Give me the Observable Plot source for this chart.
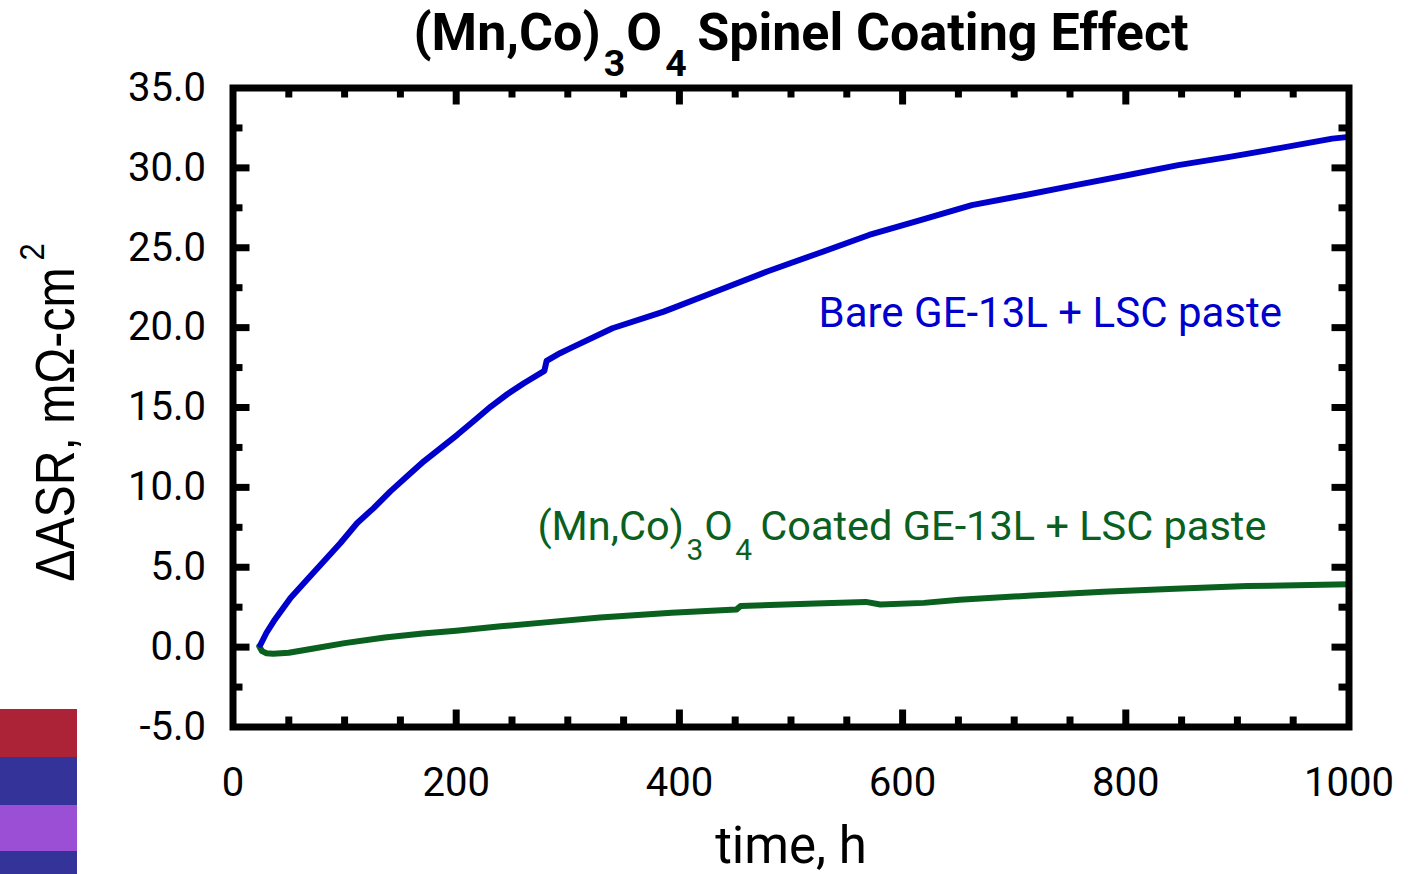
<!DOCTYPE html>
<html><head><meta charset="utf-8">
<script src="https://cdn.jsdelivr.net/npm/d3@7"></script>
<script src="https://cdn.jsdelivr.net/npm/@observablehq/plot@0.6"></script>
<style>
html,body{margin:0;padding:0;background:#fff;}
#wrap{position:relative;width:1408px;height:874px;overflow:hidden;background:#fff;}
.sw{position:absolute;left:0;width:77px;}
</style></head><body><div id="wrap"></div>
<script>
// ---- data ----
const bareTime = [24.6, 30, 36.6, 51.5, 66.5, 81.4, 96.3, 111.3, 126, 141, 156, 171, 186, 201, 216, 231, 245.7, 260.6, 279, 281, 293, 302, 340, 386, 432, 478, 524, 570, 616, 662, 709, 755, 801, 847, 893, 939, 985, 1000];
const bareASR  = [0.15, 0.9, 1.63, 3.08, 4.23, 5.38, 6.52, 7.77, 8.7, 9.75, 10.69, 11.63, 12.46, 13.29, 14.17, 15.06, 15.83, 16.52, 17.29, 17.92, 18.4, 18.7, 19.96, 21.0, 22.25, 23.5, 24.64, 25.8, 26.73, 27.67, 28.29, 28.92, 29.54, 30.17, 30.69, 31.25, 31.83, 31.94];
const coatedTime = [23.5, 26, 30, 36, 50, 71, 100, 136, 170, 200, 240, 280, 329, 393, 451, 455, 522, 567, 580, 619, 651, 716, 780, 844, 909, 1000];
const coatedASR  = [0.05, -0.25, -0.38, -0.42, -0.35, -0.1, 0.25, 0.6, 0.85, 1.02, 1.3, 1.55, 1.85, 2.15, 2.35, 2.58, 2.73, 2.83, 2.67, 2.77, 2.96, 3.23, 3.46, 3.65, 3.82, 3.93];
const xTickLabels = [0, 200, 400, 600, 800, 1000];
const xMinorTicks = [50, 100, 150, 250, 300, 350, 450, 500, 550, 650, 700, 750, 850, 900, 950];
const yTickLabels = [-5, 0, 5, 10, 15, 20, 25, 30, 35];
const yMinorTicks = [-2.5, 2.5, 7.5, 12.5, 17.5, 22.5, 27.5, 32.5];
const titleText = "(Mn,Co)3O4 Spinel Coating Effect";
const bareLabel = "Bare GE-13L + LSC paste";
const coatedLabel = "(Mn,Co)3O4 Coated GE-13L + LSC paste";
const xLabel = "time, h";
const yLabel = "ΔASR, mΩ-cm";
const yLabelSup = "2";
const swatchColors = ["#AC2338", "#333399", "#9B4FD4", "#333399"];
const swatchTops = [709, 757, 805, 851];
const swatchHeights = [48, 48, 46, 23];

// ---- build ----
const bare = bareTime.map((t, i) => ({t, v: bareASR[i]}));
const coated = coatedTime.map((t, i) => ({t, v: coatedASR[i]}));

const W = 1408, H = 874, mL = 232.5, mR = 59.5, mT = 87.5, mB = 147.5;
const xDom = [0, 1000], yDom = [-5, 35];
const pxX = (xDom[1] - xDom[0]) / (W - mL - mR);
const pxY = (yDom[1] - yDom[0]) / (H - mT - mB);
const minorLen = 10, majorLen = 17;
const BLUE = "#0000CD", GREEN = "#0A601E";

const tickRulesX = (vals, len) => [
  Plot.ruleX(vals, {x: d => d, y1: yDom[0], y2: yDom[0] + len * pxY, stroke: "black", strokeWidth: 7}),
  Plot.ruleX(vals, {x: d => d, y1: yDom[1], y2: yDom[1] - len * pxY, stroke: "black", strokeWidth: 7})
];
const tickRulesY = (vals, len) => [
  Plot.ruleY(vals, {y: d => d, x1: xDom[0], x2: xDom[0] + len * pxX, stroke: "black", strokeWidth: 7}),
  Plot.ruleY(vals, {y: d => d, x1: xDom[1], x2: xDom[1] - len * pxX, stroke: "black", strokeWidth: 7})
];

const svg = Plot.plot({
  width: W, height: H,
  marginLeft: mL, marginRight: mR, marginTop: mT, marginBottom: mB,
  style: {fontFamily: "Roboto", fontSize: "40px", color: "black", background: "white", overflow: "visible"},
  x: {domain: xDom},
  y: {domain: yDom},
  marks: [
    Plot.line(coated, {x: "t", y: "v", stroke: GREEN, strokeWidth: 6, curve: "linear"}),
    Plot.line(bare, {x: "t", y: "v", stroke: BLUE, strokeWidth: 6, curve: "linear"}),
    ...tickRulesX(xMinorTicks, minorLen),
    ...tickRulesX(xTickLabels.slice(1, -1), majorLen),
    ...tickRulesY(yMinorTicks, minorLen),
    ...tickRulesY(yTickLabels.slice(1, -1), majorLen),
    Plot.frame({stroke: "black", strokeWidth: 7}),
    Plot.axisX(xTickLabels, {tickSize: 0, tickPadding: 41, label: null, tickFormat: d => String(d), fontSize: 40}),
    Plot.axisY(yTickLabels, {tickSize: 0, tickPadding: 27, label: null, tickFormat: d => d.toFixed(1), fontSize: 40}),
    Plot.text([bareLabel], {x: 940, y: 20.9, text: d => d, textAnchor: "end", fill: BLUE, fontSize: 42}),
    Plot.text([coatedLabel], {x: 926, y: 7.56, text: d => d, textAnchor: "end", fill: GREEN, fontSize: 41.5}),
    Plot.text([titleText], {frameAnchor: "top", dx: 10, dy: -75, text: d => d, fontSize: 52, fontWeight: "bold"}),
    Plot.text([xLabel], {frameAnchor: "bottom", dy: 136, text: d => d, fontSize: 51}),
    Plot.text([yLabel], {frameAnchor: "left", textAnchor: "middle", dx: -177, dy: 5, rotate: -90, text: d => d, fontSize: 56, fontFamily: "Liberation Sans"})
  ]
});

// chemical-formula subscripts
function subscriptify(startsWith, fs) {
  d3.select(svg).selectAll("text").filter(function () { return this.textContent.startsWith(startsWith); }).each(function () {
    const sel = d3.select(this);
    const rest = this.textContent.slice(10);
    sel.text(null);
    const sub = 0.72 * fs, shift = 0.5 * fs;
    sel.append("tspan").text("(Mn,Co)");
    sel.append("tspan").attr("dx", 0.06 * fs).attr("dy", shift).attr("font-size", sub).text("3");
    sel.append("tspan").attr("dx", 0.02 * fs).attr("dy", -shift).text("O");
    sel.append("tspan").attr("dx", 0.06 * fs).attr("dy", shift).attr("font-size", sub).text("4");
    sel.append("tspan").attr("dx", -0.05 * fs).attr("dy", -shift).text(rest);
  });
}
subscriptify("(Mn,Co)3O4 Spinel", 52);
subscriptify("(Mn,Co)3O4 Coated", 41.5);

// y-label superscript and narrow glyphs
d3.select(svg).selectAll("text").filter(function () { return this.textContent === yLabel; }).each(function () {
  const sel = d3.select(this);
  sel.append("tspan").attr("dx", 8).attr("dy", -30).attr("font-size", 36).text(yLabelSup);
  sel.attr("transform", sel.attr("transform") + " scale(0.86,1)");
});

const wrap = document.getElementById("wrap");
wrap.appendChild(svg);
swatchColors.forEach((c, i) => {
  const d = document.createElement("div");
  d.className = "sw";
  d.style.top = swatchTops[i] + "px";
  d.style.height = swatchHeights[i] + "px";
  d.style.background = c;
  wrap.appendChild(d);
});
</script></body></html>
